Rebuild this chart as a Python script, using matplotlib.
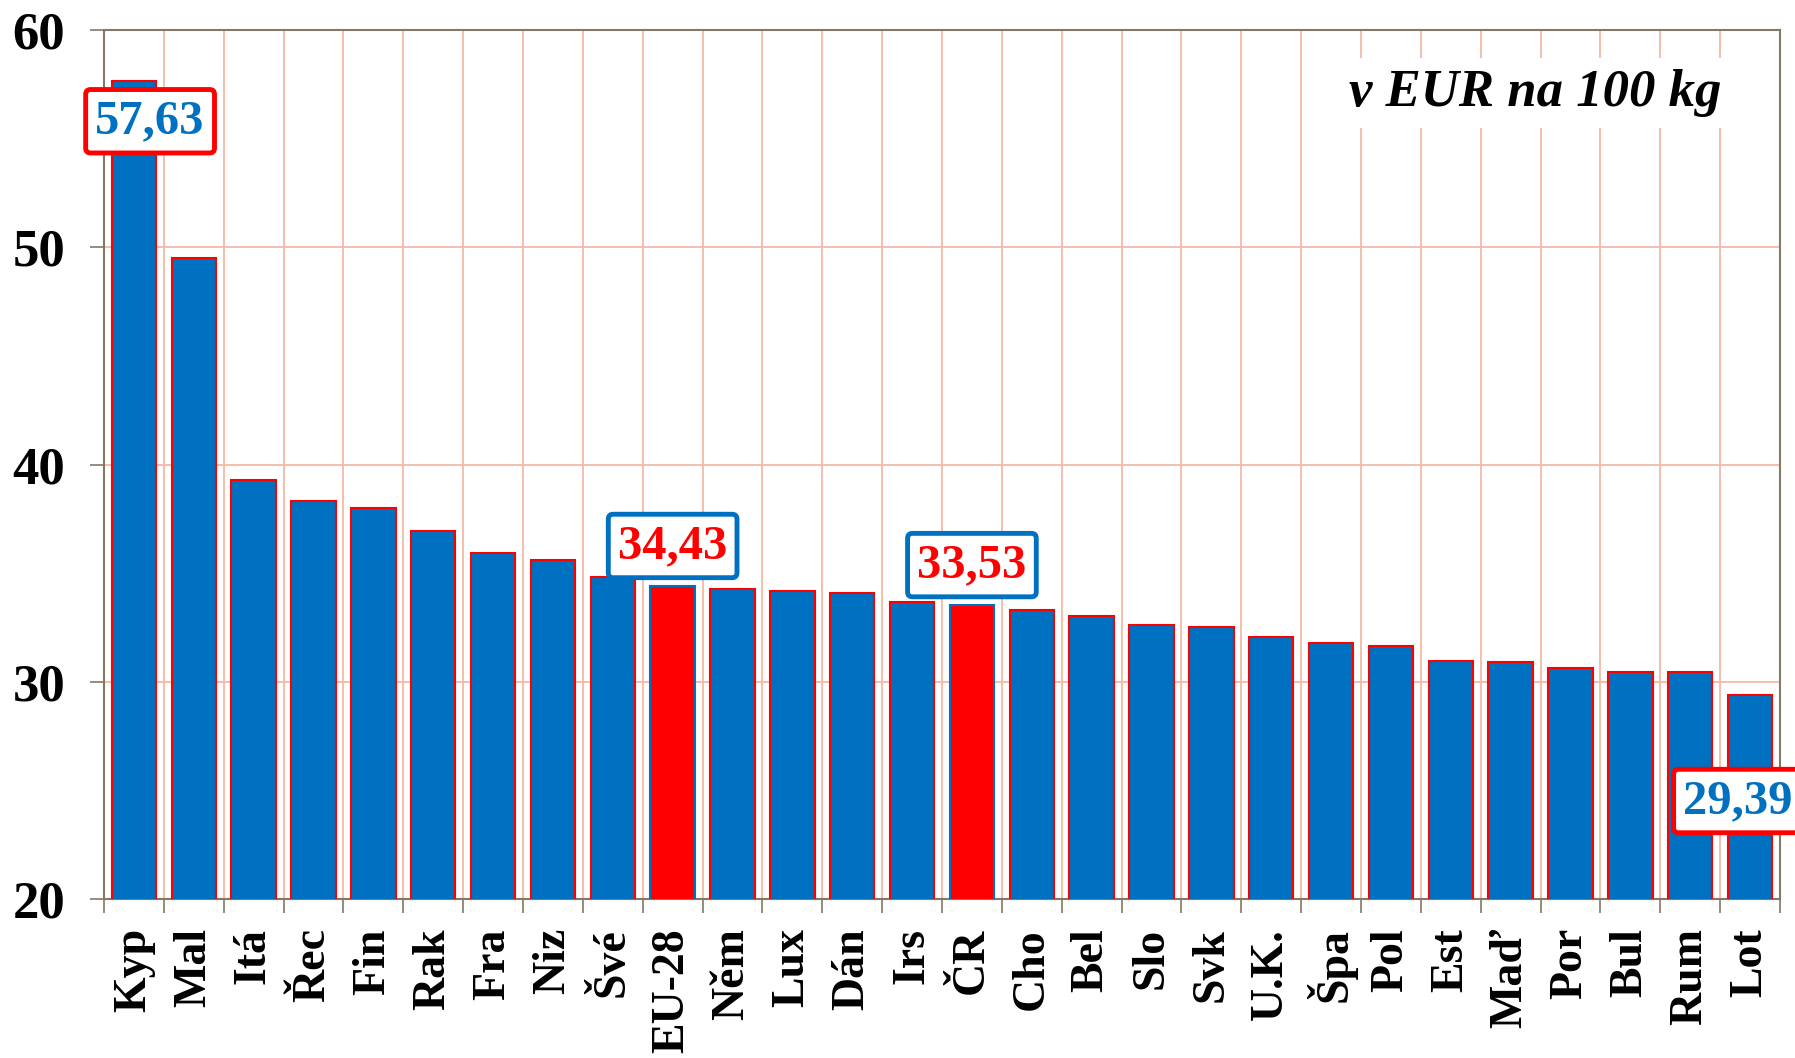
import numpy as np
import matplotlib.pyplot as plt

countries = ["Kyp", "Mal", "Itá", "Řec", "Fin", "Rak", "Fra", "Niz", "Švé", "EU-28",
             "Něm", "Lux", "Dán", "Irs", "ČR", "Cho", "Bel", "Slo", "Svk", "U.K.",
             "Špa", "Pol", "Est", "Maď", "Por", "Bul", "Rum", "Lot"]
prices = [57.63, 49.51, 39.29, 38.34, 38.02, 36.92, 35.92, 35.60, 34.81, 34.43,
          34.28, 34.18, 34.07, 33.65, 33.53, 33.28, 33.02, 32.60, 32.54, 32.07,
          31.80, 31.65, 30.96, 30.91, 30.65, 30.43, 30.43, 29.39]
highlight = ["EU-28", "ČR"]
# labelled bars: (country, text, label y in data units)
labels = [("Kyp", "57,63", 55.8), ("EU-28", "34,43", 36.25),
          ("ČR", "33,53", 35.37), ("Lot", "29,39", 24.51)]

BLUE = "#0070C0"
RED = "#FF0000"
GRID = "#F5B9A5"
SPINE = "#857865"
plt.rcParams['font.family'] = ['Liberation Serif', 'DejaVu Serif']
plt.rcParams['font.weight'] = 'bold'

fig = plt.figure(figsize=(17.95, 10.58), dpi=100)
ax = fig.add_axes([104 / 1795, 1 - 899 / 1058, 1676 / 1795, 869 / 1058])

x = np.arange(len(countries))
fills = [RED if c in highlight else BLUE for c in countries]
edges = [BLUE if c in highlight else RED for c in countries]
ax.bar(x, prices, width=0.74, bottom=0, color=fills, edgecolor=edges,
       linewidth=1.5, zorder=3)

ax.set_xlim(-0.5, len(countries) - 0.5)
ax.set_ylim(20, 60)
ax.set_yticks([20, 30, 40, 50, 60])

ax.set_xticks(x)
ax.set_xticklabels(countries, rotation=90, va='top', fontsize=33, fontweight='bold')
ax.set_xticks(np.arange(len(countries) + 1) - 0.5, minor=True)
ax.tick_params(axis='x', which='major', length=0, pad=21)
ax.tick_params(axis='x', which='minor', length=10, width=1.2, color=SPINE)
ax.tick_params(axis='y', length=10, width=1.2, color=SPINE, pad=18, labelsize=38)
for t in ax.get_yticklabels():
    t.set_fontweight('bold')

ax.grid(axis='y', which='major', color=GRID, linewidth=1.3, zorder=0)
ax.grid(axis='x', which='minor', color=GRID, linewidth=1.3, zorder=0)
ax.set_axisbelow(True)
for s in ax.spines.values():
    s.set_color(SPINE)
    s.set_linewidth(1.5)

for name, txt, ypos in labels:
    i = countries.index(name)
    tcol = RED if name in highlight else BLUE
    bcol = BLUE if name in highlight else RED
    dx = 0.27 if name == "Kyp" else (-0.2 if name == "Lot" else 0)
    ax.text(i + dx, ypos, txt, ha='center', va='center', fontsize=35,
            fontweight='bold', color=tcol, zorder=5, clip_on=False,
            bbox=dict(boxstyle='round,pad=0.2,rounding_size=0.1', fc='white',
                      ec=bcol, lw=3.5))

ax.text(0.854, 0.9275, "v EUR na 100 kg", transform=ax.transAxes, ha='center',
        va='center', fontsize=38, fontweight='bold', style='italic', zorder=5,
        bbox=dict(fc='white', ec='none', pad=8))

fig.savefig("out.png", dpi=100)
